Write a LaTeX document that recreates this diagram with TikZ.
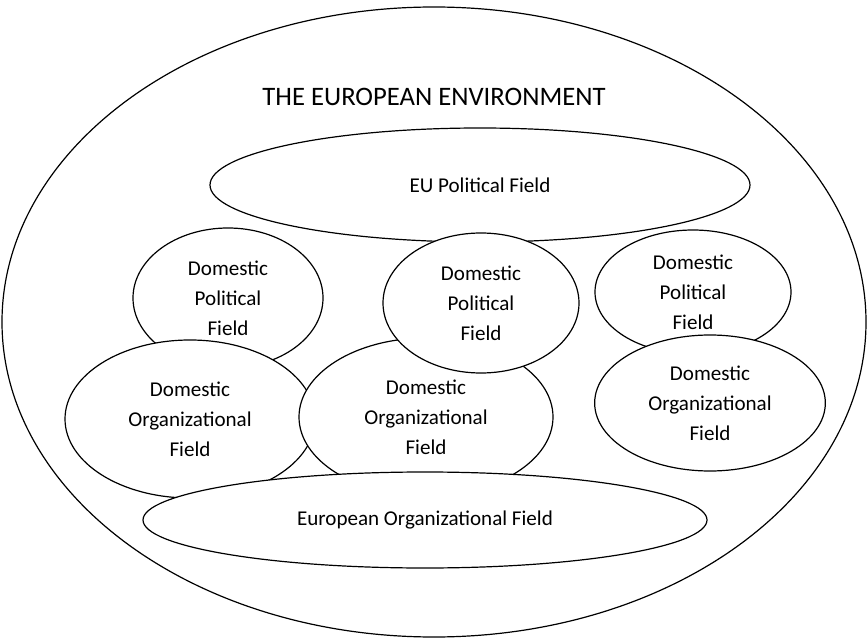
\documentclass[tikz,border=0pt]{standalone}
\usepackage{fontspec}
\setmainfont{Carlito}
\usetikzlibrary{shapes.geometric}

\begin{document}
\begin{tikzpicture}[x=0.75pt,y=-0.75pt,line width=0.9pt,
    field/.style={ellipse,draw,fill=white,inner sep=0pt,align=center,
      font=\fontsize{15.8}{22.5}\selectfont}]
  \useasboundingbox (0,0) rectangle (868,638);
  % the whole environment
  \node[field,minimum width=648pt,minimum height=472.5pt] (env) at (434,322) {};
  \node[font=\fontsize{20}{24}\selectfont] (title) at (434,97) {THE EUROPEAN ENVIRONMENT};
  % political level
  \node[field,minimum width=405pt,minimum height=85.5pt] (eupol) at (480,185) {EU Political Field};
  \node[field,minimum width=142.5pt,minimum height=105pt] (dpolA) at (228,298) {Domestic\\Political\\Field};
  \node[field,minimum width=147pt,minimum height=93pt] (dpolC) at (693,292) {Domestic\\Political\\Field};
  % organizational level
  \node[field,minimum width=187.5pt,minimum height=118.5pt] (dorgA) at (190,419) {Domestic\\Organizational\\Field};
  \node[field,minimum width=190.5pt,minimum height=118.5pt] (dorgB) at (426,417) {Domestic\\Organizational\\Field};
  \node[field,minimum width=147pt,minimum height=105pt] (dpolB) at (481,303) {Domestic\\Political\\Field};
  \node[field,minimum width=173pt,minimum height=102pt] (dorgC) at (710,403) {Domestic\\Organizational\\Field};
  \node[field,minimum width=423pt,minimum height=72pt] (euorg) at (425,520) {European Organizational Field};
\end{tikzpicture}
\end{document}
